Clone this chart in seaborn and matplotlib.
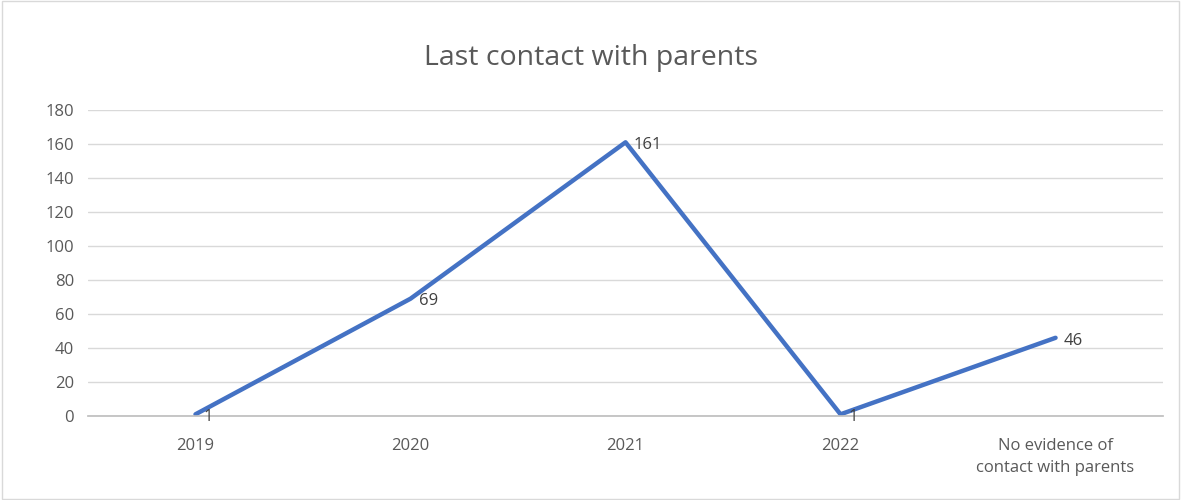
import matplotlib
matplotlib.use("Agg")
import matplotlib.pyplot as plt
import seaborn as sns
import pandas as pd

# Dados
categorias = ["2019", "2020", "2021", "2022", "No evidence of\ncontact with parents"]
valores = [1, 69, 161, 1, 46]

df = pd.DataFrame({"categoria": categorias, "valor": valores})
df["pos"] = range(len(df))

sns.set_theme(style="white")
plt.rcParams["font.family"] = ["Open Sans", "DejaVu Sans"]

fig = plt.figure(figsize=(11.81, 5), dpi=100)
ax = fig.add_axes([0.0745, 0.168, 0.9103, 0.612])

sns.lineplot(data=df, x="pos", y="valor", color="#4472C4", linewidth=3.2, ax=ax)

for x, y in zip(df["pos"], df["valor"]):
    ax.annotate(str(y), (x, y), xytext=(6, -2), textcoords="offset points",
                ha="left", va="center", fontsize=12, color="#404040",
                annotation_clip=False)

ax.set_xlim(-0.5, len(categorias) - 0.5)
ax.set_ylim(0, 180)
ax.set_yticks(range(0, 181, 20))
ax.set_xticks(df["pos"])
ax.set_xticklabels(categorias, linespacing=1.5)
ax.tick_params(axis="both", labelsize=12, colors="#595959", length=0)
ax.tick_params(axis="x", pad=16)
ax.tick_params(axis="y", pad=10)
ax.grid(axis="y", color="#D9D9D9", linewidth=1)
ax.set_axisbelow(True)
for s in ["left", "right", "top"]:
    ax.spines[s].set_visible(False)
ax.spines["bottom"].set_color("#BFBFBF")
ax.set_xlabel("")
ax.set_ylabel("")

fig.text(0.5, 0.883, "Last contact with parents", ha="center", va="center",
         fontsize=20.5, color="#595959")

# borda
fig.patches.append(plt.Rectangle((0.002, 0.002), 0.996, 0.996, transform=fig.transFigure,
                                 fill=False, edgecolor="#D9D9D9", linewidth=1))

fig.savefig("out.png", dpi=100)
